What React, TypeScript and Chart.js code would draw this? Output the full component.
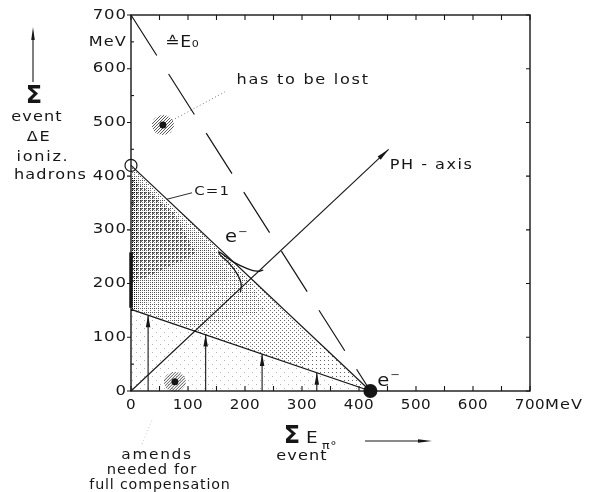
import React, { useEffect, useRef } from "react";
import { Chart, registerables } from "chart.js";

Chart.register(...registerables);

// ---------- axes ----------
const xTickValues = [0, 100, 200, 300, 400, 500, 600, 700];
const xTickLabels = ["0", "100", "200", "300", "400", "500", "600", "700"];
const yTickValues = [0, 100, 200, 300, 400, 500, 600, 700];
const yTickLabels = ["0", "100", "200", "300", "400", "500", "600", "700"];
const minorTickValues = [50, 150, 250, 350, 450, 550, 650];

// ---------- lines (MeV) ----------
const e0LineX = [0, 420];
const e0LineY = [700, 0];
const c1LineX = [0, 420];
const c1LineY = [420, 0];
const compLineX = [0, 420];
const compLineY = [152, 0];
const phAxisX = [0, 452];
const phAxisY = [0, 450];
const electronLoopX = [232, 221, 204, 180, 163, 154, 157, 172, 185, 193, 192];
const electronLoopY = [225, 223, 228, 240, 253, 259, 253, 238, 220, 201, 184];
const ionBarX = [0, 0];
const ionBarY = [155, 258];
const amendArrowX = [30, 131, 230, 326];
const amendArrowTop = [141, 105, 69, 34];
const blobX = [56, 77];
const blobY = [495, 17];
const startPointX = [0];
const startPointY = [420];
const endPointX = [420];
const endPointY = [0];

// ---------- shaded regions (MeV), nested from light to dark ----------
const shadeL0X = [0, 420, 0];
const shadeL0Y = [420, 0, 152];
const shadeL1X = [0, 330, 300, 0];
const shadeL1Y = [420, 90, 42, 152];
const shadeL2X = [0, 205, 235, 110, 0];
const shadeL2Y = [415, 210, 150, 118, 152];
const shadeL3X = [0, 135, 175, 90, 0];
const shadeL3Y = [405, 272, 212, 175, 160];
const shadeL4X = [0, 75, 115, 45, 0];
const shadeL4Y = [398, 332, 255, 220, 200];
const axisStripX = [0, 10, 10, 0];
const axisStripY = [400, 394, 150, 150];
const sparseRegionX = [0, 420, 0];
const sparseRegionY = [150, 0, 0];

const INK = "#161616";
const FONT = '"DejaVu Sans", sans-serif';
const STRETCH = 1.15;

const pts = (xs: number[], ys: number[]) => xs.map((x, i) => ({ x, y: ys[i] }));

function lineDs(label: string, xs: number[], ys: number[], extra: any = {}) {
  return {
    label,
    data: pts(xs, ys),
    borderColor: INK,
    borderWidth: 1.2,
    pointRadius: 0,
    fill: false,
    tension: 0,
    clip: false,
    ...extra,
  };
}

function dotPattern(ctx: CanvasRenderingContext2D, spacing: number, dot: number, color: string, offs: number[][]) {
  const c = document.createElement("canvas");
  c.width = spacing;
  c.height = spacing;
  const g = c.getContext("2d")!;
  g.fillStyle = color;
  offs.forEach(([ox, oy]) => g.fillRect(ox, oy, dot, dot));
  return ctx.createPattern(c, "repeat");
}

function txt(
  ctx: CanvasRenderingContext2D,
  s: string,
  x: number,
  y: number,
  size: number,
  align: CanvasTextAlign = "left",
  spacing = 1.5,
  weight = "normal",
  stretch = STRETCH
) {
  ctx.save();
  ctx.font = `${weight} ${size}px ${FONT}`;
  (ctx as any).letterSpacing = `${spacing}px`;
  ctx.textAlign = align;
  ctx.textBaseline = "middle";
  ctx.fillStyle = INK;
  ctx.translate(x, y);
  ctx.scale(stretch, 1);
  ctx.fillText(s, 0, 0);
  ctx.restore();
}

function arrowHead(ctx: CanvasRenderingContext2D, tx: number, ty: number, dx: number, dy: number, len: number, w: number) {
  const n = Math.hypot(dx, dy);
  const ux = dx / n, uy = dy / n;
  const bx = tx - ux * len, by = ty - uy * len;
  ctx.beginPath();
  ctx.moveTo(tx, ty);
  ctx.lineTo(bx - uy * w / 2, by + ux * w / 2);
  ctx.lineTo(bx + uy * w / 2, by - ux * w / 2);
  ctx.closePath();
  ctx.fillStyle = INK;
  ctx.fill();
}

const shadingPlugin = {
  id: "shading",
  beforeDatasetsDraw(chart: any) {
    const { ctx, scales } = chart;
    const X = (v: number) => scales.x.getPixelForValue(v);
    const Y = (v: number) => scales.y.getPixelForValue(v);
    const region = (xs: number[], ys: number[], fill: any) => {
      ctx.beginPath();
      xs.forEach((x, i) => (i ? ctx.lineTo(X(x), Y(ys[i])) : ctx.moveTo(X(x), Y(ys[i]))));
      ctx.closePath();
      ctx.fillStyle = fill;
      ctx.fill();
    };
    ctx.save();
    region(sparseRegionX, sparseRegionY, dotPattern(ctx, 8, 1, "rgba(0,0,0,0.3)", [[0, 0], [4, 4]]));
    region(shadeL0X, shadeL0Y, dotPattern(ctx, 4, 1, "rgba(0,0,0,0.6)", [[0, 0]]));
    region(shadeL1X, shadeL1Y, dotPattern(ctx, 4, 1, "rgba(0,0,0,0.55)", [[2, 2]]));
    region(shadeL2X, shadeL2Y, dotPattern(ctx, 4, 1, "rgba(0,0,0,0.7)", [[2, 0]]));
    region(shadeL3X, shadeL3Y, dotPattern(ctx, 4, 1, "rgba(0,0,0,0.75)", [[0, 2]]));
    region(shadeL4X, shadeL4Y, dotPattern(ctx, 4, 2, "rgba(0,0,0,0.55)", [[0, 0]]));
    region(axisStripX, axisStripY, dotPattern(ctx, 2, 1, "rgba(0,0,0,0.85)", [[0, 0]]));

    // hatched blobs
    blobX.forEach((bx, i) => {
      const cx = X(bx), cy = Y(blobY[i]);
      ctx.save();
      ctx.beginPath();
      ctx.ellipse(cx, cy, 11, 10, 0, 0, Math.PI * 2);
      ctx.clip();
      ctx.strokeStyle = "rgba(30,30,30,0.85)";
      ctx.lineWidth = 0.9;
      for (let k = -24; k <= 24; k += 3) {
        ctx.beginPath();
        ctx.moveTo(cx + k - 12, cy + 12);
        ctx.lineTo(cx + k + 12, cy - 12);
        ctx.stroke();
      }
      ctx.restore();
    });
    ctx.restore();
  },
  afterDatasetsDraw(chart: any) {
    const { ctx, scales, chartArea: a } = chart;
    const X = (v: number) => scales.x.getPixelForValue(v);
    const Y = (v: number) => scales.y.getPixelForValue(v);
    ctx.save();
    // frame
    ctx.strokeStyle = INK;
    ctx.lineWidth = 1.4;
    ctx.strokeRect(a.left, a.top, a.right - a.left, a.bottom - a.top);
    ctx.lineWidth = 1.1;
    // ticks
    [...xTickValues, ...minorTickValues].forEach((v) => {
      ctx.beginPath();
      ctx.moveTo(X(v), a.bottom);
      ctx.lineTo(X(v), a.bottom - 5);
      ctx.moveTo(X(v), a.top);
      ctx.lineTo(X(v), a.top + 5);
      ctx.stroke();
    });
    yTickValues.forEach((v) => {
      ctx.beginPath();
      ctx.moveTo(a.left - 4, Y(v));
      ctx.lineTo(a.left, Y(v));
      ctx.moveTo(a.right, Y(v));
      ctx.lineTo(a.right - 4, Y(v));
      ctx.stroke();
    });
    minorTickValues.forEach((v) => {
      ctx.beginPath();
      ctx.moveTo(a.left, Y(v));
      ctx.lineTo(a.left + 3, Y(v));
      ctx.stroke();
    });
    // tick labels
    xTickValues.forEach((v, i) => txt(ctx, xTickLabels[i], X(v), a.bottom + 14, 14, "center", 0.5, "normal", 1.08));
    txt(ctx, "MeV", X(700) + 15, a.bottom + 14, 14, "left", 1);
    yTickValues.forEach((v, i) => txt(ctx, yTickLabels[i], a.left - 4, Y(v), 14, "right", 0.8, "normal", 1.18));
    txt(ctx, "MeV", a.left - 4, 42, 14, "right", 1);

    // arrowheads on amends arrows
    amendArrowX.forEach((x, i) => arrowHead(ctx, X(x), Y(amendArrowTop[i]), 0, -1, 12, 4.5));
    // PH axis arrowhead
    {
      const x1 = X(phAxisX[1]), y1 = Y(phAxisY[1]);
      const x0 = X(phAxisX[0]), y0 = Y(phAxisY[0]);
      arrowHead(ctx, x1, y1, x1 - x0, y1 - y0, 13, 4.5);
    }
    // C=1 leader
    ctx.lineWidth = 0.9;
    ctx.beginPath();
    ctx.moveTo(X(63), Y(357));
    ctx.lineTo(X(107), Y(369));
    ctx.stroke();
    // dotted leaders
    ctx.setLineDash([1, 2.5]);
    ctx.strokeStyle = "rgba(0,0,0,0.6)";
    ctx.beginPath();
    ctx.moveTo(X(blobX[0]) + 6, Y(blobY[0]) - 3);
    ctx.lineTo(X(165), Y(557));
    ctx.stroke();
    ctx.strokeStyle = "rgba(0,0,0,0.25)";
    ctx.beginPath();
    ctx.moveTo(142, 444);
    ctx.lineTo(152, 420);
    ctx.stroke();
    ctx.setLineDash([]);
    ctx.strokeStyle = INK;

    // in-plot labels
    txt(ctx, "≙E₀", X(60), Y(648), 15, "left", 0.5);
    txt(ctx, "has to be lost", X(185), Y(579), 14, "left", 1.5);
    txt(ctx, "C=1", X(111), Y(372), 13, "left", 1);
    txt(ctx, "e", X(165), Y(285), 17, "left", 0);
    txt(ctx, "−", X(165) + 13, Y(285) - 6, 10, "left", 0);
    txt(ctx, "e", X(432), Y(17), 17, "left", 0);
    txt(ctx, "−", X(432) + 13, Y(17) - 6, 10, "left", 0);
    txt(ctx, "PH - axis", X(454), Y(421), 14, "left", 1.3);

    // y-axis title
    ctx.lineWidth = 1.1;
    ctx.beginPath();
    ctx.moveTo(33, 82);
    ctx.lineTo(33, 35);
    ctx.stroke();
    arrowHead(ctx, 33, 27, 0, -1, 13, 3.5);
    txt(ctx, "Σ", 34, 97, 24, "center", 0, "bold", 1);
    txt(ctx, "event", 37, 117, 14, "center", 1);
    txt(ctx, "ΔE", 39, 137, 14, "center", 1.5);
    txt(ctx, "ioniz.", 43, 157, 14, "center", 1.5);
    txt(ctx, "hadrons", 14, 175, 14, "left", 1.0);

    // x-axis title
    txt(ctx, "Σ", 292, 437, 24, "center", 0, "bold", 1);
    txt(ctx, "E", 306, 439, 16, "left", 0);
    txt(ctx, "π°", 322, 446, 11, "left", 0.5);
    txt(ctx, "event", 302, 456, 14, "center", 1);
    ctx.beginPath();
    ctx.moveTo(365, 441);
    ctx.lineTo(420, 441);
    ctx.stroke();
    arrowHead(ctx, 432, 441, 1, 0, 14, 3.5);

    // bottom-left note
    txt(ctx, "amends", 157, 455, 14, "center", 1.5, "normal", 1.1);
    txt(ctx, "needed for", 152, 470, 14, "center", 1.0, "normal", 1.05);
    txt(ctx, "full compensation", 160, 485, 14, "center", 0.8, "normal", 1.02);
    ctx.restore();
  },
};

export default function App() {
  const ref = useRef<HTMLCanvasElement | null>(null);
  useEffect(() => {
    if (!ref.current) return;
    const datasets: any[] = [
      lineDs("E0", e0LineX, e0LineY, { borderDash: [48, 22], borderWidth: 1.2 }),
      lineDs("C=1", c1LineX, c1LineY),
      lineDs("compensation", compLineX, compLineY, { borderWidth: 1.3 }),
      lineDs("PH-axis", phAxisX, phAxisY, { borderWidth: 1.1 }),
      lineDs("electron", electronLoopX, electronLoopY, { tension: 0.45, borderWidth: 1.3 }),
      lineDs("ion bar", ionBarX, ionBarY, { borderWidth: 3.5 }),
      ...amendArrowX.map((x, i) =>
        lineDs("amend " + i, [x, x], [0, amendArrowTop[i]], { borderWidth: 1.1 })
      ),
      {
        label: "blobs",
        data: pts(blobX, blobY),
        showLine: false,
        pointRadius: 3.5,
        pointBackgroundColor: INK,
        pointBorderWidth: 0,
        clip: false,
      },
      {
        label: "start",
        data: pts(startPointX, startPointY),
        showLine: false,
        pointRadius: 6,
        pointBackgroundColor: "rgba(0,0,0,0)",
        pointBorderColor: INK,
        pointBorderWidth: 1.2,
        clip: false,
      },
      {
        label: "end",
        data: pts(endPointX, endPointY),
        showLine: false,
        pointRadius: 7,
        pointBackgroundColor: INK,
        pointBorderWidth: 0,
        clip: false,
      },
    ];
    const chart = new Chart(ref.current, {
      type: "line",
      data: { datasets },
      options: {
        animation: false,
        responsive: false,
        events: [],
        layout: { padding: { left: 131, right: 69, top: 15, bottom: 101 } },
        scales: {
          x: { type: "linear", min: 0, max: 700, display: false },
          y: { type: "linear", min: 0, max: 700, display: false },
        },
        plugins: { legend: { display: false }, tooltip: { enabled: false } },
      },
      plugins: [shadingPlugin],
    } as any);
    return () => chart.destroy();
  }, []);
  return (
    <div style={{ position: "absolute", left: 0, top: 0, width: 599, height: 492, background: "#fff" }}>
      <canvas ref={ref} width={599} height={492} style={{ width: 599, height: 492, display: "block" }} />
    </div>
  );
}
